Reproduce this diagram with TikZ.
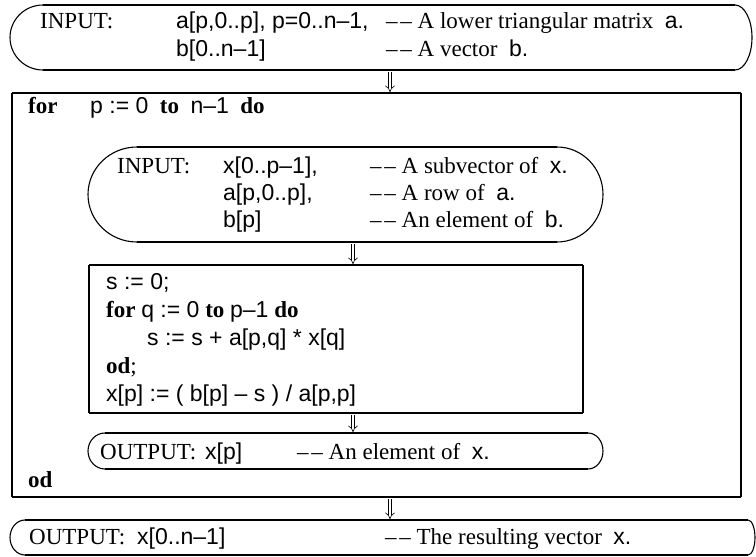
\documentclass[tikz,border=0pt]{standalone}
\usepackage{fontspec}
\setmainfont{Liberation Serif}
\newfontfamily\sanv{Liberation Sans}
\usetikzlibrary{arrows.meta}
\newcommand{\dd}{–\kern0.12em–}
\newcommand{\vv}[1]{{\sanv #1}}
\newcommand{\capsule}[6]{%
  \pgfmathsetmacro\cpym{(#5+#6)/2}%
  \pgfmathsetmacro\cpry{(#6-#5)/2}%
  \pgfmathsetmacro\cprl{#2-#1}%
  \pgfmathsetmacro\cprr{#4-#3}%
  \draw[vline] (#2,#5) .. controls ({#2-0.5523*\cprl},#5) and (#1,{\cpym-0.5523*\cpry}) .. (#1,\cpym)
     .. controls (#1,{\cpym+0.5523*\cpry}) and ({#2-0.5523*\cprl},#6) .. (#2,#6);
  \draw[vline] (#3,#5) .. controls ({#3+0.5523*\cprr},#5) and (#4,{\cpym-0.5523*\cpry}) .. (#4,\cpym)
     .. controls (#4,{\cpym+0.5523*\cpry}) and ({#3+0.5523*\cprr},#6) .. (#3,#6);
  \draw[hline] (#2,#5) -- (#3,#5);
  \draw[hline] (#2,#6) -- (#3,#6);
}
\begin{document}
\begin{tikzpicture}[x=1pt,y=-1pt,
  font=\fontsize{23}{27}\selectfont,
  txt/.style={anchor=base west, inner sep=0pt},
  hline/.style={line width=2.4pt},
  vline/.style={line width=1.1pt},
  darr/.style={double, double distance=2.8pt, line width=0.6pt, -{Implies}}]
\useasboundingbox (0,0) rectangle (756,557);
\fill[white] (0,0) rectangle (756,557);

% ---------- top input box
\capsule{10}{43}{735}{752}{5}{70}
\node[txt] (in1) at (40,28) {INPUT:};
\node[txt] (a1)  at (176,28) {\vv{a[p,0..p], p=0..n–1,}};
\node[txt] (c1)  at (386,28) {\dd\ A lower triangular matrix\ \ \vv{a.}};
\node[txt] (a2)  at (176,56) {\vv{b[0..n–1]}};
\node[txt] (c2)  at (386,56) {\dd\ A vector\ \ \vv{b.}};

% ---------- outer for box
\draw[vline] (12,93) -- (12,497);
\draw[vline] (741,93) -- (741,497);
\draw[hline] (12,93) -- (741,93);
\draw[hline] (12,497) -- (741,497);
\node[txt] (for) at (28,113) {\textbf{for}};
\node[txt] (forh) at (90,113) {\vv{p := 0}\ \ \textbf{to}\ \ \vv{n–1}\ \ \textbf{do}};

% ---------- inner input box
\capsule{88}{137}{557}{603}{147}{242}
\node[txt] (in2) at (117,173) {INPUT:};
\node[txt] (x1) at (223,173) {\vv{x[0..p–1],}};
\node[txt] (d1) at (370,173) {\dd\ A subvector of\ \ \vv{x.}};
\node[txt] (x2) at (223,200) {\vv{a[p,0..p],}};
\node[txt] (d2) at (370,200) {\dd\ A row of\ \ \vv{a.}};
\node[txt] (x3) at (223,227) {\vv{b[p]}};
\node[txt] (d3) at (370,227) {\dd\ An element of\ \ \vv{b.}};

% ---------- body box
\draw[vline] (89,265) -- (89,413);
\draw[vline] (583,265) -- (583,413);
\draw[hline] (89,265) -- (583,265);
\draw[hline] (89,413) -- (583,413);
\node[txt] (b1) at (106,289) {\vv{s := 0;}};
\node[txt] (b2) at (106,317) {\textbf{for} \vv{q := 0} \textbf{to} \vv{p–1} \textbf{do}};
\node[txt] (b3) at (147,345) {\vv{s := s + a[p,q] * x[q]}};
\node[txt] (b4) at (106,373) {\textbf{od};};
\node[txt] (b5) at (106,401) {\vv{x[p] := ( b[p] – s ) / a[p,p]}};

% ---------- inner output box
\capsule{88}{105}{588}{603}{433}{469}
\node[txt] (o1) at (100,459) {OUTPUT:};
\node[txt] (o2) at (205,459) {\vv{x[p]}};
\node[txt] (o3) at (297,459) {\dd\ An element of\ \ \vv{x.}};

\node[txt] (od) at (28,487) {\textbf{od}};

% ---------- final output box
\capsule{10}{25}{748}{755}{520}{555}
\node[txt] (f1) at (29,544) {OUTPUT:};
\node[txt] (f2) at (137,544) {\vv{x[0..n–1]}};
\node[txt] (f3) at (385,544) {\dd\ The resulting vector\ \ \vv{x.}};

% ---------- arrows
\coordinate (t1) at (390,72);  \coordinate (h1) at (390,92);
\coordinate (t2) at (353,244); \coordinate (h2) at (353,264);
\coordinate (t3) at (353,415); \coordinate (h3) at (353,432);
\coordinate (t4) at (390,499); \coordinate (h4) at (390,519);
\draw[darr] (t1) -- (h1);
\draw[darr] (t2) -- (h2);
\draw[darr] (t3) -- (h3);
\draw[darr] (t4) -- (h4);
\end{tikzpicture}
\end{document}
